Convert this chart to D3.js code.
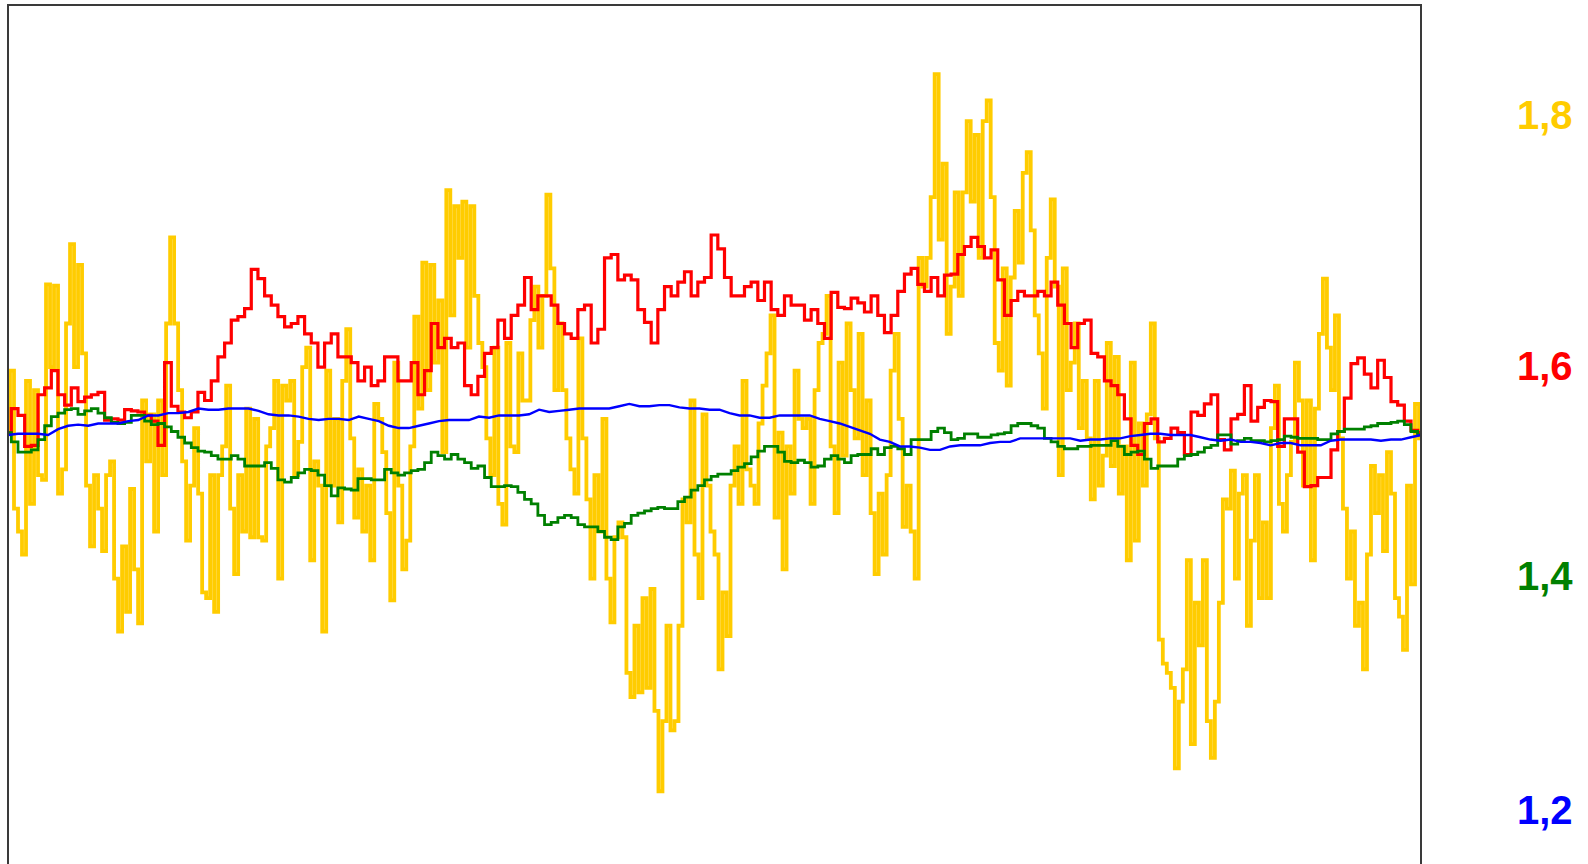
<!DOCTYPE html>
<html>
<head>
<meta charset="utf-8">
<script src="https://cdn.jsdelivr.net/npm/d3@7/dist/d3.min.js"></script>
<style>
  html, body { margin: 0; padding: 0; background: #fff; }
  svg { display: block; }
</style>
</head>
<body>
<svg id="chart" width="1588" height="864"></svg>
<script>
// Four rate series over the same period, each sampled evenly across the frame.
const yellowValues = [
  1.529,1.583,1.463,1.443,1.423,1.574,1.467,1.566,1.492,1.488,
  1.658,1.586,1.657,1.476,1.497,1.624,1.693,1.586,1.675,1.598,
  1.483,1.430,1.492,1.463,1.426,1.492,1.504,1.402,1.356,1.430,
  1.373,1.480,1.410,1.363,1.557,1.504,1.545,1.443,1.557,1.492,
  1.624,1.699,1.624,1.566,1.504,1.435,1.483,1.533,1.476,1.390,
  1.385,1.492,1.373,1.492,1.517,1.570,1.463,1.406,1.492,1.443,
  1.550,1.438,1.541,1.438,1.435,1.517,1.533,1.574,1.402,1.570,
  1.557,1.574,1.492,1.521,1.586,1.603,1.418,1.504,1.483,1.356,
  1.583,1.483,1.541,1.451,1.574,1.619,1.524,1.455,1.497,1.443,
  1.483,1.418,1.554,1.541,1.512,1.459,1.383,1.590,1.483,1.410,
  1.435,1.517,1.630,1.550,1.677,1.566,1.675,1.590,1.644,1.512,
  1.740,1.631,1.726,1.681,1.730,1.603,1.726,1.648,1.607,1.586,
  1.524,1.492,1.603,1.467,1.449,1.607,1.517,1.512,1.598,1.557,
  1.557,1.627,1.656,1.603,1.648,1.736,1.672,1.566,1.624,1.566,
  1.524,1.497,1.476,1.611,1.524,1.471,1.402,1.492,1.443,1.541,
  1.402,1.364,1.438,1.451,1.438,1.320,1.299,1.361,1.303,1.385,
  1.307,1.393,1.287,1.217,1.278,1.361,1.270,1.278,1.361,1.471,
  1.451,1.557,1.423,1.385,1.545,1.483,1.443,1.423,1.323,1.390,
  1.352,1.483,1.517,1.467,1.574,1.497,1.483,1.467,1.537,1.570,
  1.598,1.631,1.455,1.529,1.410,1.517,1.476,1.583,1.541,1.533,
  1.541,1.467,1.566,1.607,1.615,1.648,1.517,1.459,1.590,1.509,
  1.624,1.566,1.524,1.615,1.492,1.557,1.459,1.406,1.476,1.423,
  1.492,1.583,1.615,1.541,1.447,1.483,1.443,1.402,1.681,1.656,
  1.681,1.734,1.841,1.697,1.763,1.615,1.656,1.738,1.648,1.738,
  1.800,1.730,1.788,1.681,1.800,1.818,1.734,1.607,1.583,1.672,
  1.570,1.664,1.722,1.677,1.755,1.773,1.705,1.631,1.598,1.550,
  1.681,1.732,1.656,1.492,1.672,1.566,1.590,1.624,1.533,1.574,
  1.524,1.471,1.574,1.483,1.509,1.607,1.500,1.595,1.476,1.517,
  1.418,1.590,1.435,1.537,1.483,1.545,1.624,1.524,1.349,1.328,
  1.320,1.307,1.237,1.295,1.323,1.418,1.258,1.381,1.344,1.418,
  1.278,1.246,1.295,1.381,1.471,1.463,1.496,1.402,1.476,1.492,
  1.361,1.435,1.492,1.385,1.451,1.385,1.533,1.570,1.467,1.443,
  1.492,1.521,1.590,1.557,1.483,1.557,1.418,1.550,1.615,1.663,
  1.603,1.566,1.631,1.524,1.463,1.402,1.443,1.361,1.381,1.323,
  1.423,1.500,1.459,1.492,1.426,1.512,1.476,1.385,1.369,1.340,
  1.483,1.397,1.554,1.524
];

const redValues = [
  1.529,1.550,1.544,1.517,1.518,1.562,1.568,1.583,1.562,1.553,
  1.568,1.556,1.560,1.562,1.564,1.540,1.541,1.540,1.549,1.548,
  1.547,1.544,1.539,1.518,1.590,1.552,1.547,1.542,1.547,1.564,
  1.557,1.574,1.595,1.607,1.627,1.630,1.637,1.671,1.663,1.648,
  1.640,1.630,1.621,1.624,1.630,1.615,1.607,1.586,1.607,1.615,
  1.595,1.595,1.590,1.574,1.586,1.570,1.574,1.595,1.595,1.574,
  1.574,1.590,1.562,1.583,1.624,1.603,1.611,1.603,1.607,1.570,
  1.562,1.578,1.598,1.603,1.627,1.611,1.631,1.640,1.664,1.636,
  1.648,1.648,1.640,1.624,1.615,1.611,1.636,1.640,1.607,1.619,
  1.681,1.684,1.662,1.666,1.662,1.636,1.625,1.607,1.636,1.656,
  1.648,1.660,1.669,1.648,1.660,1.664,1.701,1.689,1.664,1.648,
  1.648,1.656,1.660,1.644,1.660,1.636,1.631,1.648,1.640,1.640,
  1.627,1.636,1.624,1.611,1.651,1.638,1.637,1.646,1.642,1.634,
  1.648,1.631,1.616,1.631,1.652,1.667,1.672,1.658,1.652,1.664,
  1.648,1.666,1.667,1.684,1.691,1.699,1.691,1.681,1.688,1.662,
  1.631,1.644,1.652,1.648,1.648,1.652,1.648,1.660,1.640,1.624,
  1.603,1.624,1.627,1.598,1.595,1.574,1.570,1.562,1.541,1.518,
  1.510,1.537,1.541,1.521,1.524,1.533,1.529,1.510,1.547,1.544,
  1.554,1.562,1.523,1.514,1.541,1.545,1.570,1.539,1.551,1.557,
  1.556,1.517,1.541,1.541,1.512,1.482,1.483,1.490,1.490,1.514,
  1.530,1.559,1.589,1.594,1.580,1.568,1.592,1.577,1.556,1.553,
  1.539,1.531,1.529
];

const greenValues = [
  1.529,1.521,1.512,1.512,1.514,1.523,1.535,1.543,1.546,1.549,
  1.550,1.545,1.548,1.550,1.546,1.542,1.538,1.537,1.538,1.544,
  1.544,1.539,1.536,1.537,1.534,1.530,1.525,1.520,1.516,1.513,
  1.512,1.509,1.506,1.506,1.509,1.506,1.500,1.500,1.500,1.503,
  1.498,1.488,1.486,1.490,1.494,1.497,1.496,1.492,1.483,1.474,
  1.481,1.480,1.479,1.489,1.489,1.488,1.488,1.497,1.494,1.492,
  1.494,1.496,1.497,1.503,1.512,1.509,1.506,1.510,1.506,1.503,
  1.498,1.500,1.490,1.482,1.482,1.483,1.482,1.477,1.471,1.467,
  1.457,1.449,1.451,1.455,1.457,1.455,1.449,1.447,1.447,1.443,
  1.438,1.436,1.447,1.450,1.457,1.459,1.461,1.463,1.464,1.463,
  1.463,1.469,1.473,1.479,1.483,1.488,1.491,1.493,1.493,1.496,
  1.499,1.502,1.508,1.513,1.517,1.517,1.512,1.504,1.503,1.505,
  1.503,1.499,1.500,1.506,1.509,1.506,1.503,1.509,1.510,1.510,
  1.515,1.510,1.516,1.517,1.515,1.510,1.523,1.523,1.523,1.530,
  1.533,1.529,1.523,1.524,1.528,1.528,1.525,1.525,1.527,1.528,
  1.529,1.535,1.537,1.537,1.535,1.533,1.524,1.521,1.517,1.515,
  1.515,1.517,1.517,1.518,1.518,1.518,1.522,1.517,1.510,1.512,
  1.513,1.506,1.498,1.500,1.500,1.500,1.506,1.509,1.510,1.512,
  1.516,1.518,1.527,1.527,1.519,1.522,1.524,1.522,1.522,1.521,
  1.522,1.523,1.526,1.525,1.524,1.524,1.524,1.523,1.523,1.528,
  1.530,1.532,1.532,1.532,1.534,1.535,1.537,1.537,1.538,1.539,
  1.536,1.530,1.527
];

const blueValues = [
  1.527,1.528,1.528,1.528,1.527,1.532,1.535,1.536,1.535,1.537,
  1.537,1.537,1.539,1.540,1.544,1.544,1.546,1.546,1.547,1.550,
  1.549,1.549,1.550,1.550,1.550,1.548,1.545,1.544,1.544,1.543,
  1.541,1.540,1.541,1.541,1.540,1.543,1.541,1.539,1.535,1.533,
  1.533,1.535,1.537,1.539,1.540,1.540,1.540,1.543,1.542,1.544,
  1.544,1.544,1.545,1.549,1.547,1.548,1.549,1.550,1.550,1.550,
  1.550,1.552,1.554,1.552,1.552,1.553,1.553,1.551,1.550,1.550,
  1.549,1.549,1.546,1.544,1.544,1.542,1.542,1.544,1.544,1.544,
  1.544,1.541,1.539,1.537,1.534,1.531,1.528,1.523,1.521,1.517,
  1.517,1.516,1.514,1.514,1.517,1.518,1.518,1.518,1.520,1.521,
  1.521,1.524,1.524,1.524,1.524,1.524,1.524,1.522,1.523,1.523,
  1.524,1.524,1.526,1.527,1.528,1.528,1.527,1.527,1.527,1.525,
  1.523,1.522,1.523,1.521,1.521,1.520,1.518,1.520,1.520,1.518,
  1.518,1.518,1.522,1.523,1.523,1.523,1.523,1.522,1.523,1.523,
  1.525,1.527
];

// Coloured value markers on the right, one per series colour.
const labelValues = [1.8, 1.6, 1.4, 1.2];
const labelColors = ["#FFCC00", "#FF0000", "#008000", "#0000FF"];

// Layout
const W = 1588, H = 864;
const frame = { left: 8, top: 5, right: 1421 };
const labelX = 1517;
const labelNudge = [-6, 15, -5, -1];   // vertical fine-tuning of the side labels, px
const labelFontSize = 40;

const svg = d3.select("#chart");

const y = d3.scaleLinear().domain([1.2, 1.8]).range([810.8, 121.2]);

const fmt = d3.formatLocale({ decimal: ",", thousands: ".", grouping: [3], currency: ["", ""] }).format(".1f");

// Yellow, red and green are tick data drawn as steps; blue is a smoothed average.
const series = [
  { values: yellowValues, color: "#FFCC00", width: 3.8, curve: d3.curveStep },
  { values: redValues,    color: "#FF0000", width: 3.2, curve: d3.curveStep },
  { values: greenValues,  color: "#008000", width: 2.8, curve: d3.curveStep },
  { values: blueValues,   color: "#0000FF", width: 2.4, curve: d3.curveLinear }
];

const plot = svg.append("g");

series.forEach(s => {
  const x = d3.scaleLinear().domain([0, s.values.length - 1]).range([frame.left, frame.right]);
  const line = d3.line().x((d, i) => x(i)).y(d => y(d)).curve(s.curve);
  plot.append("path")
    .datum(s.values)
    .attr("fill", "none")
    .attr("stroke", s.color)
    .attr("stroke-width", s.width)
    .attr("stroke-linejoin", "miter")
    .attr("d", line);
});

// Frame: top, left and right edges; the bottom runs off the page.
svg.append("path")
  .attr("d", `M${frame.left},${H + 10}V${frame.top}H${frame.right}V${H + 10}`)
  .attr("fill", "none")
  .attr("stroke", "#3a3a3a")
  .attr("stroke-width", 2);

svg.append("g")
  .selectAll("text")
  .data(labelValues)
  .join("text")
  .attr("x", labelX)
  .attr("y", (d, i) => y(d) + labelNudge[i] + 14)
  .attr("fill", (d, i) => labelColors[i])
  .attr("font-family", "'Liberation Sans', Arial, sans-serif")
  .attr("font-weight", "bold")
  .attr("font-size", labelFontSize)
  .text(d => fmt(d));
</script>
</body>
</html>
